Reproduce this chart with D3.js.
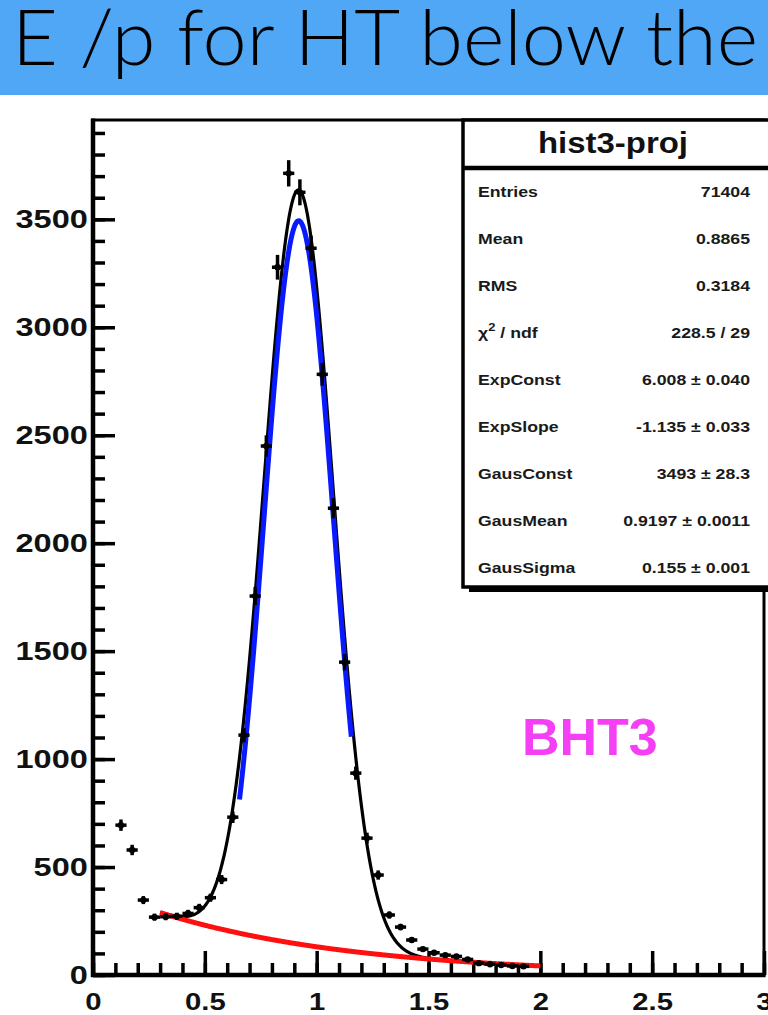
<!DOCTYPE html>
<html>
<head>
<meta charset="utf-8">
<script src="https://cdn.jsdelivr.net/npm/d3@7"></script>
<style>
  html, body { margin: 0; padding: 0; background: #fff; }
  svg { display: block; }
  .tick text { font-family: "Liberation Sans", Arial, sans-serif; font-weight: bold; }
</style>
</head>
<body>
<svg id="chart" width="768" height="1015"></svg>
<script>
// Histogram bin centres (E/p) and counts
const binCenters = [0.125, 0.175, 0.225, 0.275, 0.325, 0.375, 0.425, 0.475, 0.525, 0.575,
                    0.625, 0.675, 0.725, 0.775, 0.825, 0.875, 0.925, 0.975, 1.025, 1.075,
                    1.125, 1.175, 1.225, 1.275, 1.325, 1.375, 1.425, 1.475, 1.525, 1.575,
                    1.625, 1.675, 1.725, 1.775, 1.825, 1.875, 1.925];
const counts = [694, 579, 347, 268, 270, 272, 285, 312, 358, 442,
                731, 1111, 1755, 2450, 3278, 3713, 3625, 3366, 2782, 2162,
                1449, 935, 634, 463, 278, 222, 162, 120, 103, 92,
                86, 72, 55, 50, 46, 42, 40];
const binWidth = 0.05;

// Axis ticks
const xTicks = [0, 0.5, 1, 1.5, 2, 2.5, 3];
const yTicks = [0, 500, 1000, 1500, 2000, 2500, 3000, 3500];

// Fit parameters (expo + gaus)
const expConst = 6.008;
const expSlope = -1.135;
const gausConst = 3493;
const gausMean = 0.9197;
const gausSigma = 0.155;
const fitRange = [0.3, 2.0];
const gausDrawRange = [0.655, 1.155];

// Statistics box
const statsTitle = "hist3-proj";
const statLabels = ["Entries", "Mean", "RMS", "χ2", "ExpConst", "ExpSlope", "GausConst", "GausMean", "GausSigma"];
const statValues = ["71404", "0.8865", "0.3184", "228.5 / 29", "6.008 ± 0.040", "-1.135 ± 0.033",
                    "3493 ± 28.3", "0.9197 ± 0.0011", "0.155 ± 0.001"];

const titleText = "E /p for HT below the";
const tagText = "BHT3";

(function draw() {
  const svg = d3.select("#chart");
  svg.append("rect").attr("width", 768).attr("height", 1015).attr("fill", "#fff");

  // Header band
  svg.append("rect").attr("x", 0).attr("y", 0).attr("width", 768).attr("height", 95).attr("fill", "#4fa7f6");
  svg.append("text")
    .attr("x", 12).attr("y", 65)
    .attr("font-family", "Lato, Roboto, sans-serif")
    .attr("font-weight", 300)
    .attr("font-size", 76)
    .attr("fill", "#000")
    .attr("textLength", 746)
    .attr("lengthAdjust", "spacingAndGlyphs")
    .text(titleText);

  // Plot frame geometry
  const pLeft = 93, pRight = 764, pTop = 120, pBottom = 975;
  const x = d3.scaleLinear().domain([0, 3]).range([pLeft, pRight]);
  const y = d3.scaleLinear().domain([0, 3960]).range([pBottom, pTop]);

  const plot = svg.append("g");

  plot.append("rect")
    .attr("x", pLeft).attr("y", pTop).attr("width", pRight - pLeft).attr("height", pBottom - pTop)
    .attr("fill", "none").attr("stroke", "#000").attr("stroke-width", 3);

  // Axes: ticks drawn inward like a ROOT frame
  const yMinor = d3.range(0, 3960, 100);
  const xMinor = d3.range(0, 3.0001, 0.1);

  const yMinorAxis = d3.axisLeft(y).tickValues(yMinor).tickSizeInner(-12).tickSizeOuter(0).tickFormat("");
  const yAxis = d3.axisLeft(y).tickValues(yTicks).tickSizeInner(-22).tickSizeOuter(0).tickPadding(4).tickFormat(d3.format("d"));
  const xMinorAxis = d3.axisBottom(x).tickValues(xMinor).tickSizeInner(-12).tickSizeOuter(0).tickFormat("");
  const xAxis = d3.axisBottom(x).tickValues(xTicks).tickSizeInner(-24).tickSizeOuter(0).tickPadding(18).tickFormat(d => String(d));

  function styleAxis(g) {
    g.select(".domain").remove();
    g.selectAll(".tick line").attr("stroke", "#000").attr("stroke-width", 3.5);
  }

  plot.append("g").attr("transform", `translate(${pLeft},0)`).call(yMinorAxis).call(styleAxis);
  const gy = plot.append("g").attr("transform", `translate(${pLeft},0)`).call(yAxis).call(styleAxis);
  plot.append("g").attr("transform", `translate(0,${pBottom})`).call(xMinorAxis).call(styleAxis);
  const gx = plot.append("g").attr("transform", `translate(0,${pBottom})`).call(xAxis).call(styleAxis);

  gy.selectAll(".tick text").attr("font-size", 25).attr("fill", "#111")
    .attr("transform", "scale(1.3,1)");
  gx.selectAll(".tick text").attr("font-size", 24).attr("fill", "#111")
    .attr("transform", "scale(1.22,1)");

  // Thick axis lines
  plot.append("line").attr("x1", pLeft).attr("x2", pLeft).attr("y1", pTop - 1.5).attr("y2", pBottom + 2)
    .attr("stroke", "#000").attr("stroke-width", 4.5);
  plot.append("line").attr("x1", pLeft - 2).attr("x2", pRight + 1.5).attr("y1", pBottom).attr("y2", pBottom)
    .attr("stroke", "#000").attr("stroke-width", 4.5);

  // Fit curves
  const expo = v => Math.exp(expConst + expSlope * v);
  const gaus = v => gausConst * Math.exp(-0.5 * Math.pow((v - gausMean) / gausSigma, 2));
  const line = d3.line().x(d => x(d[0])).y(d => y(d[1]));
  const sample = (r, f) => d3.range(r[0], r[1] + 1e-9, 0.0025).map(v => [v, f(v)]);

  plot.append("path").datum(sample(fitRange, v => expo(v) + gaus(v)))
    .attr("d", line).attr("fill", "none").attr("stroke", "#000").attr("stroke-width", 3.2);
  plot.append("path").datum(sample(gausDrawRange, gaus))
    .attr("d", line).attr("fill", "none").attr("stroke", "#0a1aff").attr("stroke-width", 5);
  plot.append("path").datum(sample(fitRange, expo))
    .attr("d", line).attr("fill", "none").attr("stroke", "#ff1010").attr("stroke-width", 5);

  // Histogram points with error bars
  const pts = plot.append("g").selectAll("g")
    .data(binCenters.map((c, i) => ({ c, n: counts[i] }))).join("g");
  pts.append("line")
    .attr("x1", d => x(d.c - binWidth / 2)).attr("x2", d => x(d.c + binWidth / 2))
    .attr("y1", d => y(d.n)).attr("y2", d => y(d.n))
    .attr("stroke", "#000").attr("stroke-width", 3.5);
  pts.append("line")
    .attr("x1", d => x(d.c)).attr("x2", d => x(d.c))
    .attr("y1", d => y(d.n + Math.sqrt(d.n))).attr("y2", d => y(d.n - Math.sqrt(d.n)))
    .attr("stroke", "#000").attr("stroke-width", 3.5);
  pts.append("circle").attr("cx", d => x(d.c)).attr("cy", d => y(d.n)).attr("r", 3.2).attr("fill", "#000");

  // Statistics box
  const boxX = 463, boxW = 320, titleH = 48, boxBottom = 587;
  svg.append("rect").attr("x", boxX + 6).attr("y", boxBottom - 2).attr("width", boxW).attr("height", 7).attr("fill", "#000");
  svg.append("rect").attr("x", boxX).attr("y", pTop).attr("width", boxW).attr("height", boxBottom - pTop)
    .attr("fill", "#fff").attr("stroke", "#000").attr("stroke-width", 3.5);
  svg.append("line").attr("x1", boxX).attr("x2", boxX + boxW).attr("y1", pTop + titleH).attr("y2", pTop + titleH)
    .attr("stroke", "#000").attr("stroke-width", 4.5);

  svg.append("text")
    .attr("x", 613).attr("y", 153)
    .attr("text-anchor", "middle")
    .attr("font-family", "'Liberation Sans', Arial, sans-serif")
    .attr("font-weight", "bold").attr("font-size", 29).attr("fill", "#111")
    .attr("textLength", 150).attr("lengthAdjust", "spacingAndGlyphs")
    .text(statsTitle);

  const rowY = d3.scaleLinear().domain([0, statLabels.length - 1]).range([197, 573]);
  const stats = svg.append("g")
    .attr("font-family", "'Liberation Sans', Arial, sans-serif")
    .attr("font-weight", "bold").attr("font-size", 15).attr("fill", "#1a1a1a");

  statLabels.forEach((lab, i) => {
    const g = stats.append("g").attr("transform", `translate(478,${rowY(i)}) scale(1.18,1)`);
    const t = g.append("text");
    if (lab === "χ2") {
      t.append("tspan").text("χ");
      t.append("tspan").attr("dy", -7).attr("font-size", 11).text("2");
      t.append("tspan").attr("dy", 7).text(" / ndf");
    } else {
      t.text(lab);
    }
    stats.append("g").attr("transform", `translate(750,${rowY(i)}) scale(1.18,1)`)
      .append("text").attr("text-anchor", "end").text(statValues[i]);
  });

  // Trigger tag
  svg.append("text")
    .attr("x", 522).attr("y", 755)
    .attr("font-family", "'Liberation Sans', Arial, sans-serif")
    .attr("font-weight", "bold").attr("font-size", 52)
    .attr("fill", "#f53ff5")
    .text(tagText);
})();
</script>
</body>
</html>
